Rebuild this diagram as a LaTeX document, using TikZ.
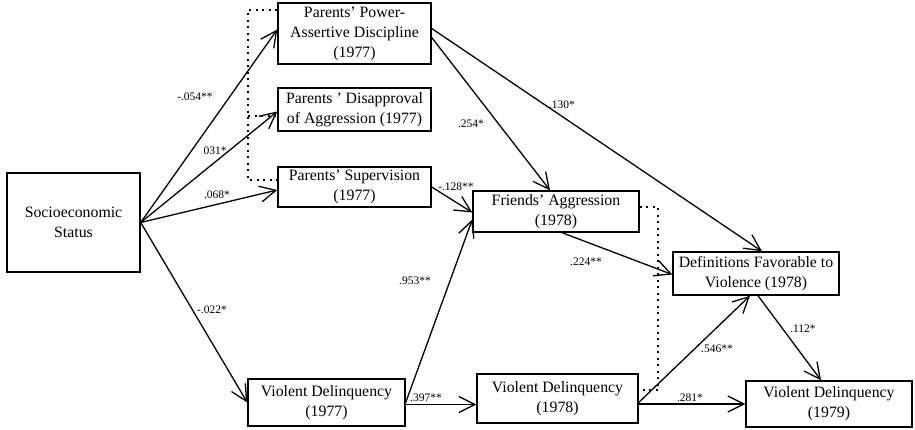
\documentclass[tikz,border=0pt]{standalone}
\usepackage{fontspec}
\setmainfont{Liberation Serif}
\usetikzlibrary{arrows.meta,calc}
\begin{document}
\begin{tikzpicture}[x=1pt,y=-1pt,
  box/.style={draw, line width=1.4pt, inner sep=0pt, align=center,
    font=\fontsize{15.8}{20}\selectfont},
  arr/.style={line width=1.3pt, -{Straight Barb[length=16pt,width=16pt,line width=1.3pt]}},
  dotline/.style={line width=1.5pt, dash pattern=on 2pt off 4.5pt},
  lab/.style={inner sep=0pt, font=\fontsize{11.5}{13}\selectfont}]
\useasboundingbox (0,0) rectangle (915,430);
\node[box, minimum width=133pt, minimum height=99pt] (ses) at (73.5,222.5) {Socioeconomic\\Status};
\node[box, minimum width=153pt, minimum height=61pt] (pow) at (354.5,33.5) {Parents' Power-\\Assertive Discipline\\(1977)};
\node[box, minimum width=153pt, minimum height=43pt] (dis) at (354.5,109.5) {Parents ' Disapproval\\of Aggression (1977)};
\node[box, minimum width=153pt, minimum height=40pt] (sup) at (354.5,187) {Parents' Supervision\\(1977)};
\node[box, minimum width=166pt, minimum height=41pt] (fri) at (556,211.5) {Friends' Aggression\\(1978)};
\node[box, minimum width=166pt, minimum height=43pt] (def) at (756,273.5) {Definitions Favorable to\\Violence (1978)};
\node[box, minimum width=157pt, minimum height=47pt] (v77) at (326.5,402.5) {Violent Delinquency\\(1977)};
\node[box, minimum width=161pt, minimum height=49pt] (v78) at (557.5,398.5) {Violent Delinquency\\(1978)};
\node[box, minimum width=166pt, minimum height=46pt] (v79) at (829,404) {Violent Delinquency\\(1979)};

% arrows
\draw[arr] (ses.east) -- ([yshift=4pt]pow.west);
\draw[arr] (ses.east) -- ([yshift=-2pt]dis.west);
\draw[arr] (ses.east) -- ([yshift=-3pt]sup.west);
\draw[arr] (ses.east) -- (v77.west);
\draw[arr] ([yshift=-4pt]pow.east) -- ([xshift=-6pt]fri.north);
\draw[arr] ([yshift=5pt]pow.east) -- ([xshift=6pt]def.north);
\draw[arr] (sup.east) -- ([yshift=-1pt]fri.west);
\draw[arr] (v77.east) -- ([yshift=-8pt]fri.west);
\draw[arr] ([yshift=-2pt]v77.east) -- ([yshift=-2pt]v77.east -| v78.west);
\draw[arr] ([xshift=6pt]fri.south) -- ([yshift=-1pt]def.west);
\draw[arr] ([yshift=-4pt]v78.east) -- ([xshift=-6pt]def.south);
\draw[arr] (v78.east |- v79.west) -- (v79.west);
\draw[arr] ([xshift=2pt]def.south) -- ([xshift=-8pt]v79.north);

% dotted correlation brackets
\coordinate (la) at (248,10);
\coordinate (lb) at (248,180);
\coordinate (lm) at (248,116);
\draw[dotline] (la -| pow.west) -- (la) -- (lb) -- (lb -| sup.west);
\draw[dotline] (lm) -- (lm -| dis.west);
\coordinate (ra) at (658,207);
\coordinate (rb) at (658,390);
\draw[dotline] (ra -| fri.east) -- (ra) -- (rb) -- (rb -| v78.east);

% labels
\node[lab] (l1) at (195,97) {-.054**};
\node[lab] (l2) at (215,151) {031*};
\node[lab] (l3) at (217,195) {.068*};
\node[lab] (l4) at (212,310) {-.022*};
\node[lab] (l5) at (415,281) {.953**};
\node[lab] (l6) at (426,398) {.397**};
\node[lab] (l7) at (456,187) {-.128**};
\node[lab] (l8) at (471,124) {.254*};
\node[lab] (l9) at (562,105) {.130*};
\node[lab] (l10) at (586,262) {.224**};
\node[lab] (l11) at (717,349) {.546**};
\node[lab] (l12) at (690,398) {.281*};
\node[lab] (l13) at (803,329) {.112*};
\end{tikzpicture}
\end{document}
